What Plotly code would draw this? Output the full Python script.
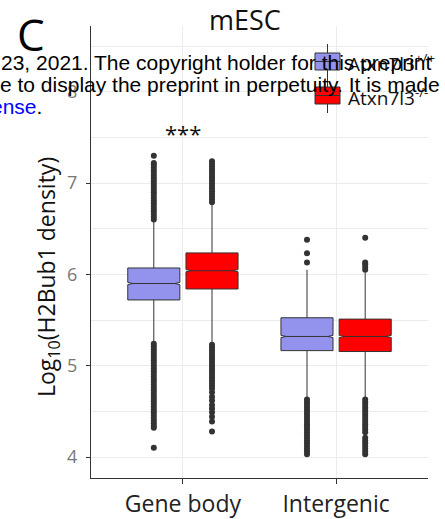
import plotly.graph_objects as go

# ---------------- data ----------------
categories = ["Gene body", "Intergenic"]
genotypes = ["Atxn7l3<sup>+/+</sup>", "Atxn7l3<sup>-/-</sup>"]
colors = ["#9393ee", "#ff0000"]

# Atxn7l3 +/+
wt_q1 = [5.72, 5.165]
wt_median = [5.90, 5.32]
wt_q3 = [6.07, 5.525]
wt_lower = [5.26, 4.65]
wt_upper = [6.58, 6.05]
wt_notch = [0.012, 0.012]

# Atxn7l3 -/-
ko_q1 = [5.84, 5.155]
ko_median = [6.04, 5.32]
ko_q3 = [6.235, 5.51]
ko_lower = [5.25, 4.64]
ko_upper = [6.76, 6.02]
ko_notch = [0.012, 0.012]

# outliers
wt_gene_out = [7.30, 7.22, 7.20, 7.17, 7.14, 7.11, 7.08, 7.05, 7.02, 6.99, 6.96, 6.93,
               6.90, 6.87, 6.84, 6.81, 6.78, 6.75, 6.72, 6.69, 6.66, 6.63, 6.60,
               5.24, 5.21, 5.18, 5.15, 5.12, 5.09, 5.06, 5.03, 5.00, 4.97, 4.94, 4.91,
               4.88, 4.85, 4.82, 4.79, 4.76, 4.73, 4.70, 4.67, 4.64, 4.61, 4.58, 4.55,
               4.52, 4.49, 4.46, 4.43, 4.40, 4.37, 4.34, 4.32, 4.10]
ko_gene_out = [7.24, 7.21, 7.18, 7.15, 7.12, 7.09, 7.06, 7.03, 7.00, 6.97, 6.94, 6.91,
               6.88, 6.85, 6.82, 6.79,
               5.23, 5.20, 5.17, 5.14, 5.11, 5.08, 5.05, 5.02, 4.99, 4.96, 4.93, 4.90,
               4.87, 4.84, 4.81, 4.78, 4.75, 4.71, 4.66, 4.62, 4.57, 4.53, 4.49, 4.44,
               4.39, 4.28]
wt_inter_out = [6.38, 6.23, 6.13,
                4.63, 4.60, 4.57, 4.54, 4.51, 4.48, 4.45, 4.42, 4.39, 4.36, 4.33, 4.30,
                4.27, 4.24, 4.21, 4.18, 4.15, 4.12, 4.09, 4.06, 4.03]
ko_inter_out = [6.40, 6.13, 6.11, 6.08, 6.05,
                4.63, 4.60, 4.57, 4.54, 4.51, 4.48, 4.45, 4.42, 4.39, 4.36, 4.33, 4.30,
                4.27, 4.21, 4.18, 4.15, 4.12, 4.09, 4.06, 4.03]

sig_label = "***"
sig_value = 7.55

# ---------------- figure ----------------
dodge = 0.19
box_w = 0.34
line_col = "#333333"

fig = go.Figure()
series = [
    (wt_q1, wt_median, wt_q3, wt_lower, wt_upper, wt_notch, [wt_gene_out, wt_inter_out], -dodge, colors[0], genotypes[0]),
    (ko_q1, ko_median, ko_q3, ko_lower, ko_upper, ko_notch, [ko_gene_out, ko_inter_out], dodge, colors[1], genotypes[1]),
]
for q1, med, q3, lo, up, notch, outs, off, col, name in series:
    xs = [i + off for i in range(len(categories))]
    fig.add_trace(go.Box(
        x=xs, q1=q1, median=med, q3=q3, lowerfence=lo, upperfence=up,
        notched=True, notchspan=notch, notchwidth=0.1,
        width=box_w, whiskerwidth=0, boxpoints=False,
        fillcolor=col, line=dict(color=line_col, width=1),
        name=name, showlegend=False, hoverinfo="skip",
    ))
    for i, vals in enumerate(outs):
        fig.add_trace(go.Scatter(
            x=[i + off] * len(vals), y=vals, mode="markers",
            marker=dict(color=line_col, size=6, line=dict(width=0)),
            showlegend=False, hoverinfo="skip",
        ))

fig.add_annotation(x=0, y=sig_value, xref="x", yref="y", text=sig_label,
                   xanchor="center", yanchor="middle",
                   showarrow=False, font=dict(family="Open Sans", size=22, color="#111"))

# layout geometry in pixels -> paper
L, R, T, B = 91, 428, 26, 478
def px(xp):
    return (xp - L) / (R - L)
def py(yp):
    return (B - yp) / (B - T)

def note(x, y, text, size, color="#111", family="Open Sans", xanchor="center", angle=0):
    fig.add_annotation(x=px(x), y=py(y), xref="paper", yref="paper", text=text,
                       xanchor=xanchor, yanchor="middle", textangle=angle,
                       showarrow=False, font=dict(family=family, size=size, color=color))

# title, panel letter, y title
note(245, 19, "mESC", 27)
note(31, 34, "C", 44, color="#000")
note(47, 277, "Log<sub>10</sub>(H2Bub1 density)", 23, angle=-90)

# manual legend
for k, (col, name) in enumerate(zip(colors, genotypes)):
    top = 53 + 34 * k
    bot = top + 17
    mid = (top + bot) / 2
    cx = 327.5
    fig.add_shape(type="line", xref="paper", yref="paper", x0=px(cx), x1=px(cx),
                  y0=py(top - 9), y1=py(bot + 9), line=dict(color=line_col, width=1))
    fig.add_shape(type="rect", xref="paper", yref="paper", x0=px(315), x1=px(340),
                  y0=py(bot), y1=py(top), fillcolor=col, line=dict(color=line_col, width=1))
    fig.add_shape(type="line", xref="paper", yref="paper", x0=px(315), x1=px(340),
                  y0=py(mid), y1=py(mid), line=dict(color=line_col, width=1))
    note(346, mid + 1, name, 19, xanchor="left")

# preprint watermark
note(434, 63, "23, 2021. The copyright holder for this preprint", 21, color="#000",
     family="Liberation Sans", xanchor="right")
note(442, 84, "e to display the preprint in perpetuity. It is made", 21, color="#000",
     family="Liberation Sans", xanchor="right")
note(44, 106, "<span style='color:#0000ff'>ense</span>.", 21, color="#000",
     family="Liberation Sans", xanchor="right")

grid = "#ebebeb"
fig.update_layout(
    width=445, height=519,
    margin=dict(l=L, r=445 - R, t=T, b=519 - B, autoexpand=False),
    plot_bgcolor="white", paper_bgcolor="white",
    showlegend=False,
    xaxis=dict(range=[-0.6, 1.6], tickvals=list(range(len(categories))), ticktext=categories,
               showgrid=True, gridcolor=grid, gridwidth=1, zeroline=False, automargin=False,
               showline=True, linecolor=line_col, linewidth=1.3,
               ticks="outside", ticklen=5, tickcolor=line_col,
               tickfont=dict(family="Open Sans", size=23, color="#222")),
    yaxis=dict(range=[3.77, 8.72], tickvals=[4, 5, 6, 7, 8], automargin=False,
               showgrid=True, gridcolor=grid, gridwidth=1, zeroline=False,
               minor=dict(dtick=0.5, tick0=0, showgrid=True, gridcolor=grid, gridwidth=1),
               showline=True, linecolor=line_col, linewidth=1.3,
               ticks="outside", ticklen=4, tickcolor=line_col, ticklabelstandoff=5,
               tickfont=dict(family="Open Sans", size=18, color="#777")),
)

fig.write_html("out.html")
